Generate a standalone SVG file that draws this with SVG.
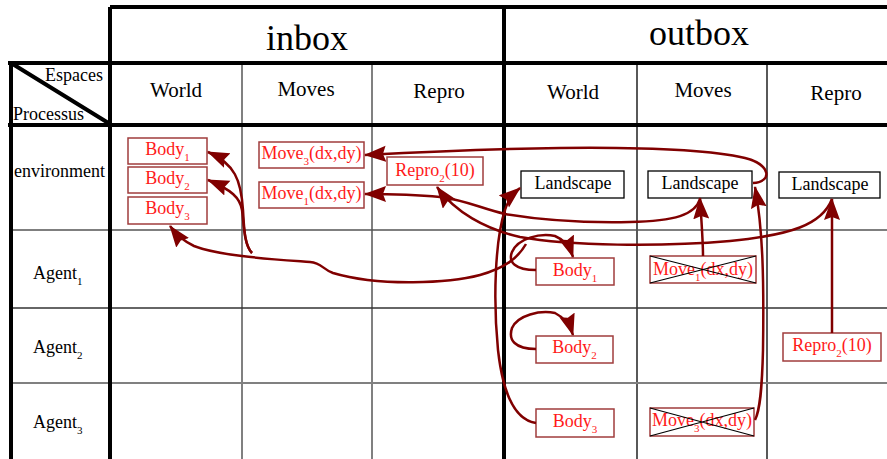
<svg xmlns="http://www.w3.org/2000/svg" width="887" height="459" viewBox="0 0 887 459">
<style>
.thick{stroke:#000;stroke-width:4;fill:none}
.tg{stroke:#808080;stroke-width:2;fill:none}
.tb{stroke:#000;stroke-width:1.3;fill:none}
.hd{font-family:"Liberation Serif",serif;fill:#000}
.rb{fill:#fff;stroke:#a03c3c;stroke-width:1.5}
.lb{fill:#fff;stroke:#000;stroke-width:1.3}
.rt{font-family:"Liberation Serif",serif;font-size:18px;fill:#ff1a1a;text-anchor:middle}
.lt{font-family:"Liberation Serif",serif;font-size:18px;fill:#000;text-anchor:middle}
.x{stroke:#000;stroke-width:1.2}
.arr{fill:none;stroke:#800000;stroke-width:2.5;marker-end:url(#ah)}
</style>
<defs>
<marker id="ah" markerUnits="userSpaceOnUse" markerWidth="24" markerHeight="18" refX="21" refY="8" orient="auto">
<path d="M0,0 L22,8 L0,16 L3,8 Z" fill="#800000"/>
</marker>
</defs>
<rect width="887" height="459" fill="#fff"/>
<g id="grid">
<path class="tg" d="M242 63V459M372 63V459"/>
<path class="tb" d="M637 63V459M767 63V459"/>
<path stroke="#555" stroke-width="1.5" d="M11 230H887"/>
<path stroke="#333" stroke-width="1.5" d="M11 308H887"/>
<path stroke="#808080" stroke-width="2" d="M11 383H887"/>
<path class="thick" d="M110 7H887M110 7V459M504 7V459M8 63H887M8 125H887M11 63V459M11 63L110 124"/>
</g>
<g id="headers">
<text class="hd" x="307" y="50" font-size="36" text-anchor="middle">inbox</text>
<text class="hd" x="699" y="45" font-size="36" text-anchor="middle">outbox</text>
<text class="hd" x="176" y="97" font-size="21" text-anchor="middle">World</text>
<text class="hd" x="306" y="96" font-size="21" text-anchor="middle">Moves</text>
<text class="hd" x="439" y="98" font-size="21" text-anchor="middle">Repro</text>
<text class="hd" x="573" y="99" font-size="21" text-anchor="middle">World</text>
<text class="hd" x="703" y="97" font-size="21" text-anchor="middle">Moves</text>
<text class="hd" x="836" y="100" font-size="21" text-anchor="middle">Repro</text>
<text class="hd" x="103" y="81" font-size="18" text-anchor="end">Espaces</text>
<text class="hd" x="13" y="120" font-size="18">Processus</text>
<text class="hd" x="14" y="177" font-size="18">environment</text>
<text class="hd" x="33" y="279" font-size="18">Agent<tspan font-size="11" dy="6">1</tspan></text>
<text class="hd" x="33" y="353" font-size="18">Agent<tspan font-size="11" dy="6">2</tspan></text>
<text class="hd" x="33" y="428" font-size="18">Agent<tspan font-size="11" dy="6">3</tspan></text>
</g>
<g id="in-body1"><rect class="rb" x="128" y="138" width="79" height="26"/><text class="rt" x="167.5" y="155">Body<tspan font-size="11" dy="6">1</tspan></text></g>
<g id="in-body2"><rect class="rb" x="128" y="167" width="79" height="26"/><text class="rt" x="167.5" y="184">Body<tspan font-size="11" dy="6">2</tspan></text></g>
<g id="in-body3"><rect class="rb" x="128" y="197" width="79" height="27"/><text class="rt" x="167.5" y="214">Body<tspan font-size="11" dy="6">3</tspan></text></g>
<g id="in-move3"><rect class="rb" x="259" y="142" width="105" height="26"/><text class="rt" x="311.5" y="159">Move<tspan font-size="11" dy="6">3</tspan><tspan dy="-6">(dx,dy)</tspan></text></g>
<g id="in-move1"><rect class="rb" x="259" y="182" width="105" height="26"/><text class="rt" x="311.5" y="199">Move<tspan font-size="11" dy="6">1</tspan><tspan dy="-6">(dx,dy)</tspan></text></g>
<g id="in-repro2"><rect class="rb" x="387" y="157" width="96" height="28"/><text class="rt" x="435" y="176">Repro<tspan font-size="11" dy="6">2</tspan><tspan dy="-6">(10)</tspan></text></g>
<g id="land1"><rect class="lb" x="521" y="171" width="103" height="27"/><text class="lt" x="573" y="189">Landscape</text></g>
<g id="land2"><rect class="lb" x="648" y="171" width="104" height="27"/><text class="lt" x="700" y="189">Landscape</text></g>
<g id="land3"><rect class="lb" x="779" y="172" width="101" height="26"/><text class="lt" x="830" y="190">Landscape</text></g>
<g id="out-body1"><rect class="rb" x="536" y="258" width="78" height="27"/><text class="rt" x="575" y="276">Body<tspan font-size="11" dy="6">1</tspan></text></g>
<g id="out-move1"><rect class="rb" x="650" y="256" width="106" height="27"/><text class="rt" x="703" y="275">Move<tspan font-size="11" dy="6">1</tspan><tspan dy="-6">(dx,dy)</tspan></text><path class="x" d="M650 256L756 283M650 283L756 256"/></g>
<g id="out-body2"><rect class="rb" x="536" y="336" width="77" height="27"/><text class="rt" x="574.5" y="353">Body<tspan font-size="11" dy="6">2</tspan></text></g>
<g id="out-repro2"><rect class="rb" x="783" y="333" width="98" height="28"/><text class="rt" x="832" y="351">Repro<tspan font-size="11" dy="6">2</tspan><tspan dy="-6">(10)</tspan></text></g>
<g id="out-body3"><rect class="rb" x="536" y="409" width="78" height="28"/><text class="rt" x="575" y="427">Body<tspan font-size="11" dy="6">3</tspan></text></g>
<g id="out-move3"><rect class="rb" x="650" y="408" width="104" height="28"/><text class="rt" x="702" y="426">Move<tspan font-size="11" dy="6">3</tspan><tspan dy="-6">(dx,dy)</tspan></text><path class="x" d="M650 408L754 436M650 436L754 408"/></g>
<g id="connectors">
<path class="arr" d="M252 253C244 245 244 225 243 210C241 180 235 164 208 152"/>
<path class="arr" d="M252 253C244 245 244 225 242 210C240 198 232 190 208 180"/>
<path class="arr" d="M526 244C518 258 505 268 480 275C450 283 380 287 333 273C322 269 322 263 310 262C270 259 220 256 194 246C183 241 176 234 170 226"/>
<path class="arr" d="M536 270C515 270 508 262 512 252C518 238 540 233 555 236C565 240 570 248 573 257"/>
<path class="arr" d="M536 349C515 349 508 340 512 328C518 315 540 310 555 313C565 318 570 325 573 335"/>
<path class="arr" d="M536 423C515 420 503 395 498 350C493 300 495 240 505 210C508 200 514 193 520 188"/>
<path class="arr" d="M753 183C772 182 772 165 745 158C710 150 650 147 560 148C480 149 420 152 365 155"/>
<path class="arr" d="M700 199C695 215 675 221 630 222C580 223 540 220 505 214C480 208 465 200 440 197C420 195 395 194 365 194"/>
<path class="arr" d="M832 199C822 225 790 235 730 241C660 247 570 246 520 237C485 229 455 212 437 187"/>
<path class="arr" d="M703 256C703 240 701 215 700 198"/>
<path class="arr" d="M832 333L832 199"/>
<path class="arr" d="M755 420C760 410 762 390 763 350C764 280 763 230 755 187"/>
</g>
</svg>
